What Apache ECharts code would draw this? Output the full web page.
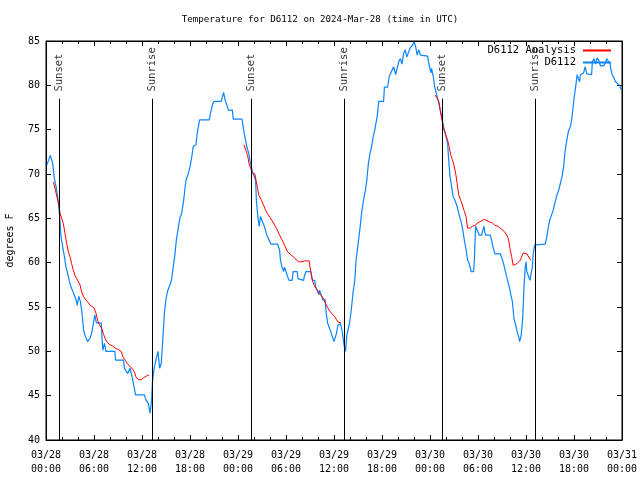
<!DOCTYPE html>
<html><head><meta charset="utf-8">
<script src="https://cdn.jsdelivr.net/npm/echarts@6/dist/echarts.min.js"></script>
<style>html,body{margin:0;padding:0;background:#fff}#c{width:640px;height:480px}</style>
</head><body><div id="c"></div>
<script>
// hours since 2024-03-28 00:00 UTC
var obsHours = [0.1,0.2,0.54,0.83,1.04,1.25,1.46,1.67,1.88,2.08,2.3,2.5,2.7,2.9,3.1,3.3,3.5,3.7,3.9,4.1,4.3,4.5,4.7,4.9,5.2,5.5,5.7,5.9,6.1,6.3,6.9,7.1,7.3,7.5,8.6,8.7,9.7,9.8,10.0,10.2,10.5,10.8,11.0,11.2,12.3,12.5,12.8,13.0,13.2,13.3,13.5,13.75,14.0,14.2,14.4,14.6,14.8,15.0,15.2,15.5,15.7,15.9,16.1,16.3,16.5,16.75,16.95,17.2,17.35,17.5,17.8,18.0,18.2,18.4,18.75,18.9,19.2,20.4,20.6,20.8,21.0,21.9,22.2,22.4,22.6,22.8,23.3,23.4,24.5,24.7,24.9,25.1,25.35,25.6,25.8,26.0,26.2,26.3,26.5,26.65,26.8,27.0,27.25,27.6,27.8,28.1,28.95,29.2,29.3,29.5,29.7,29.8,30.0,30.2,30.4,30.75,30.9,31.4,31.5,31.7,32.2,32.3,32.5,33.1,33.3,33.6,33.7,33.9,34.1,34.2,34.4,34.6,34.9,35.0,35.2,35.4,35.6,35.8,36.0,36.2,36.3,36.5,36.8,37.0,37.2,37.3,37.45,37.6,37.85,38.0,38.2,38.4,38.6,38.75,39.0,39.25,39.45,39.7,39.9,40.1,40.3,40.5,40.7,40.9,41.1,41.4,41.6,42.2,42.3,42.5,42.7,42.9,43.0,43.25,43.45,43.7,43.9,44.1,44.3,44.5,44.7,44.9,45.1,45.3,45.5,45.8,46.0,46.2,46.4,46.6,46.8,46.9,47.7,47.8,48.0,48.1,48.2,48.4,48.6,48.85,49.1,49.3,49.5,49.7,49.9,50.2,50.3,50.5,50.7,50.9,51.1,51.4,51.6,51.7,51.9,52.1,52.3,52.5,52.7,52.9,53.15,53.45,53.55,53.7,53.9,54.15,54.45,54.65,54.75,54.85,55.0,55.55,55.75,55.95,56.1,56.8,56.95,57.1,57.3,57.5,57.7,57.9,58.1,58.3,58.5,58.7,58.9,59.1,59.2,59.4,59.6,59.75,59.9,60.0,60.1,60.3,60.5,60.6,60.8,60.9,61.1,62.4,62.6,62.8,63.0,63.2,63.4,63.6,63.85,64.1,64.3,64.5,64.7,64.9,65.1,65.3,65.6,65.8,66.0,66.2,66.4,66.5,66.7,66.8,67.2,67.4,67.6,67.7,68.2,68.3,68.5,68.7,68.9,69.1,69.3,69.7,69.9,70.1,70.3,70.5,70.7,70.9,71.2,71.4,71.7,71.9];
var obsTemps = [71.0,71.2,72.1,71.2,69.5,68.6,67.4,65.6,62.9,61.8,60.7,59.5,58.8,58.0,57.3,56.9,56.4,56.0,55.2,56.2,55.6,54.3,52.4,51.7,51.1,51.5,52.0,52.0,54.1,53.2,53.2,50.1,50.9,50.0,50.0,49.0,49.0,48.1,47.9,47.5,48.1,47.0,46.0,45.1,45.1,44.5,44.1,43.0,44.5,46.5,48.0,49.1,50.0,48.1,48.6,51.3,54.3,55.9,56.8,57.5,58.1,59.5,60.8,62.6,63.7,65.1,65.5,67.0,68.2,69.3,70.1,70.8,71.8,73.1,73.3,74.6,76.1,76.1,77.0,77.8,78.2,78.2,79.2,78.3,77.8,77.2,77.2,76.2,76.2,75.0,74.0,73.1,72.3,71.0,70.3,70.1,69.3,67.0,65.0,64.1,65.2,65.1,64.2,63.1,63.0,62.1,62.1,61.4,60.3,59.5,59.0,59.5,59.0,58.4,58.0,58.0,59.0,59.0,58.2,58.0,58.0,58.5,59.0,59.0,58.0,58.0,57.3,57.2,56.4,56.9,56.8,55.8,55.8,54.5,53.2,53.1,52.2,52.0,51.1,51.0,52.0,53.0,53.1,52.4,51.1,50.5,50.0,51.8,52.8,53.5,55.0,56.8,58.0,60.2,62.0,63.9,65.6,67.1,68.0,69.3,71.2,72.3,73.1,74.2,75.0,76.5,78.2,78.2,79.8,79.9,79.8,81.0,81.2,81.7,82.1,81.2,81.2,82.7,83.0,82.4,83.6,84.0,83.2,83.2,84.2,84.5,84.9,84.4,83.4,84.0,83.4,83.3,83.3,82.7,81.9,81.4,81.9,81.0,79.8,78.9,78.0,77.2,76.3,75.3,74.6,73.5,72.1,69.7,68.6,67.4,67.1,66.3,66.2,65.2,64.6,63.7,62.5,61.5,60.3,59.9,59.0,59.0,60.3,64.1,64.0,63.1,63.1,63.8,64.1,63.4,63.1,63.1,62.3,61.5,61.0,61.0,60.6,60.2,59.5,58.7,58.0,57.3,56.4,55.6,53.7,53.0,52.2,51.6,51.1,51.8,53.9,57.3,59.5,60.1,59.0,58.9,58.0,58.6,59.5,61.0,62.0,62.1,62.9,64.1,64.9,65.1,65.9,66.7,67.6,68.2,68.2,69.7,70.8,72.7,73.8,74.8,75.5,76.8,78.5,79.8,81.2,80.9,80.4,81.2,81.4,82.1,81.3,81.2,81.2,82.7,83.0,82.4,83.1,82.8,82.2,82.2,82.5,83.0,83.1,82.4,81.4,81.3,80.4,80.3,80.0,79.5];

// analysis: three nighttime segments
var anaHours1 = [0.92,1.17,1.375,1.58,1.75,2.0,2.17,2.375,2.58,2.8,3.0,3.2,3.4,3.6,3.83,4.0,4.25,4.46,4.67,4.9,5.2,5.5,5.75,6.0,6.25,6.46,6.67,6.96,7.17,7.375,7.58,7.9,8.33,8.75,9.08,9.4,9.6,9.9,10.2,10.5,10.83,11.04,11.25,11.54,11.9,12.17,12.4,12.7,12.9];
var anaTemps1 = [69.1,68.2,67.4,66.7,65.6,65.5,64.4,63.3,62.2,61.2,60.7,59.9,59.2,58.6,58.2,58.1,57.5,56.7,56.2,55.9,55.6,55.2,55.0,54.9,54.3,53.5,53.0,52.6,52.0,51.5,51.1,50.8,50.6,50.3,50.2,50.0,49.4,49.0,48.6,48.3,48.0,47.7,47.1,46.8,46.8,47.0,47.2,47.3,47.3];
var anaHours2 = [24.75,25.0,25.2,25.4,25.6,25.8,26.1,26.25,26.4,26.6,26.9,27.15,27.4,27.7,28.0,28.3,28.6,28.8,29.2,29.5,29.7,29.9,30.2,30.6,31.0,31.3,31.6,32.0,32.3,32.9,33.0,33.1,33.3,33.5,33.7,33.9,34.2,34.5,34.75,35.0,35.3,35.5,35.8,36.1,36.3,36.5,36.75,36.9];
var anaTemps2 = [73.3,73.1,72.1,71.1,70.6,70.1,70.0,69.3,68.6,67.6,67.1,66.6,66.0,65.5,65.1,64.7,64.2,63.9,63.1,62.6,62.2,61.8,61.2,60.9,60.6,60.3,60.1,60.1,60.2,60.2,59.5,59.0,58.0,57.5,57.3,56.9,56.5,56.2,55.8,55.3,54.8,54.5,54.2,53.9,53.6,53.3,53.2,53.2];
var anaHours3 = [48.67,48.9,49.1,49.3,49.5,49.7,49.9,50.2,50.4,50.6,50.8,51.0,51.2,51.4,51.6,51.9,52.0,52.25,52.5,52.7,53.0,53.3,53.6,54.0,54.4,54.8,55.0,55.4,55.8,56.1,56.5,56.9,57.3,57.6,57.8,58.0,58.2,58.4,58.6,58.9,59.3,59.5,59.65,59.8,60.1,60.3,60.5,60.6];
var anaTemps3 = [78.9,78.8,78.2,77.0,76.1,75.1,74.6,73.8,73.1,72.1,71.6,71.0,70.1,68.9,67.6,66.9,66.9,65.9,65.2,63.9,63.9,64.1,64.2,64.5,64.7,64.9,64.8,64.6,64.5,64.2,64.1,63.8,63.5,63.1,62.7,61.6,60.7,59.7,59.6,59.9,60.3,60.5,61.1,61.3,61.0,60.8,60.4,60.3];

var eventHours = [1.66,13.29,25.66,37.29,49.54,61.16];
var eventLabels = ['Sunset','Sunrise','Sunset','Sunrise','Sunset','Sunrise'];

var xTickLabels = ['03/28\n00:00','03/28\n06:00','03/28\n12:00','03/28\n18:00','03/29\n00:00','03/29\n06:00','03/29\n12:00','03/29\n18:00','03/30\n00:00','03/30\n06:00','03/30\n12:00','03/30\n18:00','03/31\n00:00'];
var yTicks = [40,45,50,55,60,65,70,75,80,85];

var FONT = 'DejaVu Sans Mono';
function zip(a,b){return a.map(function(v,i){return [v,b[i]];});}
var obsData = zip(obsHours, obsTemps);
var anaData = [].concat(zip(anaHours1,anaTemps1), [[18,null]], zip(anaHours2,anaTemps2), [[42,null]], zip(anaHours3,anaTemps3));

var chart = echarts.init(document.getElementById('c'), null, {renderer:'canvas'});
function xAxisCfg(pos, showLabel){
  return {
    type:'value', position:pos, min:0, max:72, interval:6,
    axisLine:{show:true, onZero:false, lineStyle:{color:'#000', width:1}},
    axisTick:{show:true, inside:true, length:5, lineStyle:{color:'#000'}},
    minorTick:{show:true, splitNumber:3, length:3, lineStyle:{color:'#000'}},
    splitLine:{show:false},
    axisLabel:{show:showLabel, margin:8, color:'#000', fontFamily:FONT, fontSize:10, lineHeight:14,
      formatter:function(v){return xTickLabels[Math.round(v/6)];}}
  };
}
function yAxisCfg(pos, showLabel){
  return {
    type:'value', position:pos, min:yTicks[0], max:yTicks[yTicks.length-1], interval:5,
    name: showLabel ? 'degrees F' : '', nameLocation:'middle', nameGap:31, nameRotate:90,
    nameTextStyle:{color:'#000', fontFamily:FONT, fontSize:10},
    axisLine:{show:true, onZero:false, lineStyle:{color:'#000', width:1}},
    axisTick:{show:true, inside:true, length:5, lineStyle:{color:'#000'}},
    splitLine:{show:false},
    axisLabel:{show:showLabel, margin:6, color:'#000', fontFamily:FONT, fontSize:10}
  };
}
chart.setOption({
  animation:false,
  backgroundColor:'#fff',
  title:{text:'Temperature for D6112 on 2024-Mar-28 (time in UTC)', left:'center', top:10,
    textStyle:{color:'#000', fontFamily:FONT, fontSize:9.2, fontWeight:'normal'}},
  grid:{left:46, right:18, top:41, bottom:40, show:true, borderColor:'#000', borderWidth:1,
    containLabel:false, outerBoundsMode:'none'},
  legend:{orient:'vertical', right:23, top:40, align:'right', itemGap:1, itemWidth:28, itemHeight:13,
    data:['D6112 Analysis','D6112'], itemStyle:{opacity:0},
    textStyle:{color:'#000', fontFamily:FONT, fontSize:10.5, padding:[0,2,0,0]}},
  xAxis:[xAxisCfg('bottom', true), xAxisCfg('top', false)],
  yAxis:[yAxisCfg('left', true), yAxisCfg('right', false)],
  series:[
    {name:'D6112 Analysis', type:'line', data:anaData, symbol:'none', connectNulls:false,
      lineStyle:{color:'#ff0000', width:1}, itemStyle:{color:'#ff0000'}, z:3},
    {name:'D6112', type:'line', data:obsData, symbol:'none',
      lineStyle:{color:'#0a84ff', width:1.2}, itemStyle:{color:'#0a84ff'}, z:2},
    {type:'line', data:[], silent:true,
      markLine:{silent:true, symbol:'none', animation:false,
        lineStyle:{color:'#000', width:1, type:'solid'}, label:{show:false},
        data:eventHours.map(function(h){return [{coord:[h,40]},{coord:[h,78.5]}];})}},
    {type:'scatter', silent:true, symbolSize:0,
      data:eventHours.map(function(h){return [h,79.3];}),
      label:{show:true, position:'inside', rotate:90, align:'left', verticalAlign:'middle',
        color:'#000', fontFamily:FONT, fontSize:10.5,
        formatter:function(p){return eventLabels[p.dataIndex];}}}
  ]
});
</script></body></html>
